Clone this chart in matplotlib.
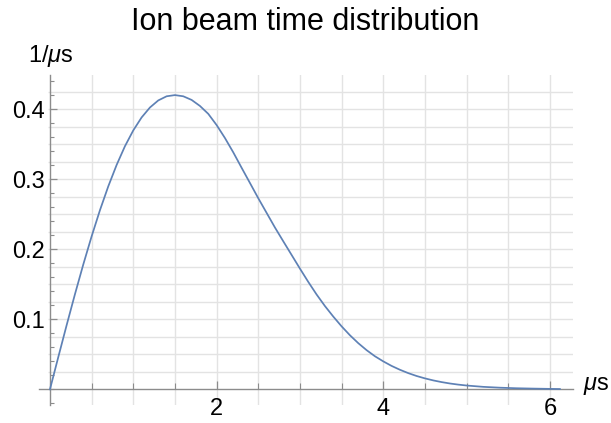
import matplotlib
matplotlib.use("Agg")
import matplotlib.pyplot as plt
from matplotlib.ticker import MultipleLocator, FixedLocator

plt.rcParams['font.family'] = ['Liberation Sans', 'DejaVu Sans']
plt.rcParams['mathtext.fontset'] = 'custom'
plt.rcParams['mathtext.rm'] = 'Liberation Sans'
plt.rcParams['mathtext.it'] = 'Liberation Sans:italic'

# values (time in microseconds, density in 1/us)
t_us = [0.0, 0.1, 0.2, 0.3, 0.4, 0.5, 0.6, 0.7, 0.8, 0.9,
        1.0, 1.1, 1.2, 1.3, 1.4, 1.5, 1.6, 1.7, 1.8, 1.9,
        2.0, 2.1, 2.2, 2.3, 2.4, 2.5, 2.6, 2.7, 2.8, 2.9,
        3.0, 3.1, 3.2, 3.3, 3.4, 3.5, 3.6, 3.7, 3.8, 3.9,
        4.0, 4.1, 4.2, 4.3, 4.4, 4.5, 4.6, 4.7, 4.8, 4.9,
        5.0, 5.2, 5.4, 5.6, 5.8, 6.0, 6.12]
density = [0.0, 0.0461, 0.0916, 0.1359, 0.1784, 0.2185, 0.2559, 0.2900, 0.3205, 0.3473,
           0.3699, 0.3884, 0.4026, 0.4127, 0.4186, 0.4203, 0.4186, 0.4134, 0.4048, 0.3935,
           0.3775, 0.3590, 0.3385, 0.3165, 0.2948, 0.2730, 0.2521, 0.2312, 0.2115, 0.1920,
           0.1725, 0.1535, 0.1355, 0.1190, 0.1040, 0.0900, 0.0773, 0.0660, 0.0560, 0.0473,
           0.0400, 0.0335, 0.0280, 0.0232, 0.0191, 0.0157, 0.0128, 0.0104, 0.0084, 0.0068,
           0.0055, 0.0036, 0.0024, 0.0016, 0.0011, 0.0007, 0.0005]

x_major = [2, 4, 6]
y_major = [0.1, 0.2, 0.3, 0.4]
x_grid = [0.5 * i for i in range(1, 13)]
y_grid = [0.025 * i for i in range(1, 18)]

title = "Ion beam time distribution"
ylabel = "1/$\\mu$s"
xlabel = "$\\mu$s"

fig = plt.figure(figsize=(6.11, 4.23), dpi=100)
ax = fig.add_axes([0.0643, 0.0426, 0.8735, 0.7801])
xmin, xmax = -0.128, 6.277
ymin, ymax = -0.0223, 0.449
ax.set_xlim(xmin, xmax)
ax.set_ylim(ymin, ymax)

gc = '#e3e3e3'
for gx in x_grid:
    ax.axvline(gx, color=gc, lw=1.0, zorder=0)
ax.hlines(y_grid, -0.024, xmax, color=gc, lw=1.0, zorder=0)

ax.plot(t_us, density, color='#5E81B5', lw=1.25, zorder=3)

for s in ['top', 'right']:
    ax.spines[s].set_visible(False)
ax.spines['left'].set_position(('data', 0))
ax.spines['bottom'].set_position(('data', 0))
for s in ['left', 'bottom']:
    ax.spines[s].set_color('#8c8c8c')
    ax.spines[s].set_linewidth(1.0)

ax.xaxis.set_major_locator(FixedLocator(x_major))
ax.xaxis.set_minor_locator(MultipleLocator(0.5))
ax.yaxis.set_major_locator(FixedLocator(y_major))
ax.yaxis.set_minor_locator(MultipleLocator(0.02))
ax.set_xticklabels([str(v) for v in x_major])
ax.set_yticklabels([str(v) for v in y_major])

ax.tick_params(axis='both', which='both', direction='in', color='#8c8c8c', labelsize=17,
               labelcolor='black')
ax.tick_params(axis='x', which='major', length=6, width=0.9, pad=6)
ax.tick_params(axis='x', which='minor', length=4, width=0.8)
ax.tick_params(axis='y', which='major', length=5, width=0.9, pad=4)
ax.tick_params(axis='y', which='minor', length=3, width=0.8)

fig.text(305 / 611, 1 - 22 / 423, title, ha='center', va='center', fontsize=22)
fig.text(51 / 611, 1 - 56 / 423, ylabel, ha='center', va='center', fontsize=17)
fig.text(596 / 611, 1 - 386 / 423, xlabel, ha='center', va='center', fontsize=17)

fig.savefig('out.png', dpi=100)
